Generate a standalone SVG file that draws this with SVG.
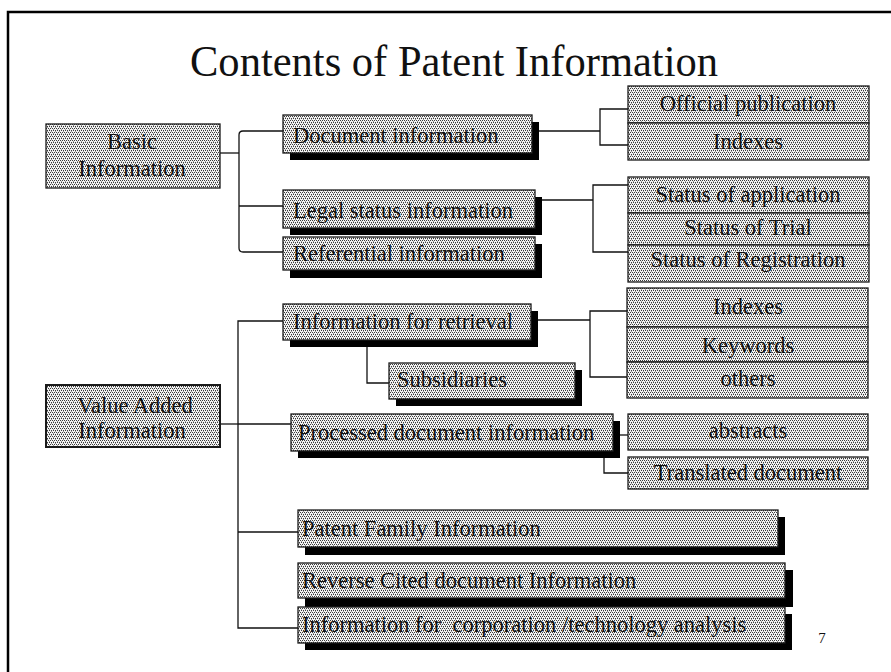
<svg xmlns="http://www.w3.org/2000/svg" width="891" height="672" viewBox="0 0 891 672">
<defs>
<pattern id="stip" width="4" height="4" patternUnits="userSpaceOnUse">
<rect width="4" height="4" fill="#f4f4f4"/>
<rect x="0" y="0" width="1" height="1" fill="#3a3a3a"/>
<rect x="2" y="0" width="1" height="1" fill="#3a3a3a"/>
<rect x="1" y="2" width="1" height="1" fill="#3a3a3a"/>
<rect x="3" y="2" width="1" height="1" fill="#3a3a3a"/>
<rect x="1" y="1" width="1" height="1" fill="#9a9a9a"/>
<rect x="3" y="3" width="1" height="1" fill="#9a9a9a"/>
</pattern>
</defs>
<style>
.box{fill:url(#stip);stroke:#1a1a1a;stroke-width:1.3}
.sh{fill:#000}
.t{font-family:"Liberation Serif","Times New Roman",serif;font-size:22.5px;fill:#111}
.c{text-anchor:middle}
.conn{stroke:#111;stroke-width:1.3;fill:none}
.frame{stroke:#000;stroke-width:2.5;fill:none}
</style>
<rect width="891" height="672" fill="#fff"/>
<path class="frame" d="M8,672 V12 H891"/>
<text id="title" x="190" y="76" font-family="Liberation Serif, Times New Roman, serif" font-size="45" fill="#111" textLength="528" lengthAdjust="spacingAndGlyphs">Contents of Patent Information</text>
<g id="connectors">
<path class="conn" d="M220,153 H239"/>
<path class="conn" d="M283,131 H243 Q239,131 239,135 V248 Q239,252 243,252 H283"/>
<path class="conn" d="M239,206 H283"/>
<path class="conn" d="M538,131 H600"/>
<path class="conn" d="M628,109 H600 V145 H628"/>
<path class="conn" d="M542,200 H593"/>
<path class="conn" d="M628,185 H593 V252 H628"/>
<path class="conn" d="M220,424 H238"/>
<path class="conn" d="M283,321 H238 V628 H298"/>
<path class="conn" d="M238,424 H291"/>
<path class="conn" d="M238,532 H298"/>
<path class="conn" d="M538,320 H590"/>
<path class="conn" d="M627,311 H590 V377 H627"/>
<path class="conn" d="M367,347 V383 H389"/>
<path class="conn" d="M620,435 H628"/>
<path class="conn" d="M604,458 V473 H628"/>
</g>
<g id="basic">
<rect class="box" x="46" y="124" width="174" height="64"/>
<text class="t c" x="132" y="149">Basic</text>
<text class="t c" x="132" y="176">Information</text>
</g>
<g id="value-added">
<rect class="box" x="46" y="385" width="174" height="62" style="stroke-width:2"/>
<text class="t c" x="135" y="413">Value Added</text>
<text class="t c" x="132" y="438">Information</text>
</g>
<g id="doc-info">
<rect class="sh" x="290" y="122" width="249" height="38"/>
<rect class="box" x="283" y="115" width="249" height="38"/>
<text class="t" x="293" y="143">Document information</text>
</g>
<g id="legal-status">
<rect class="sh" x="290" y="197" width="252" height="38"/>
<rect class="box" x="283" y="190" width="252" height="38"/>
<text class="t" x="293" y="218">Legal status information</text>
</g>
<g id="referential">
<rect class="sh" x="290" y="244" width="252" height="34"/>
<rect class="box" x="283" y="237" width="252" height="33"/>
<text class="t" x="293" y="261">Referential information</text>
</g>
<g id="official-pub">
<rect class="box" x="628" y="86" width="241" height="37"/>
<text class="t c" x="748" y="111">Official publication</text>
</g>
<g id="indexes-1">
<rect class="box" x="628" y="123" width="241" height="37"/>
<text class="t c" x="748" y="149">Indexes</text>
</g>
<g id="status-app">
<rect class="box" x="628" y="177" width="241" height="36"/>
<text class="t c" x="748" y="202">Status of application</text>
</g>
<g id="status-trial">
<rect class="box" x="628" y="213" width="241" height="32"/>
<text class="t c" x="748" y="235">Status of Trial</text>
</g>
<g id="status-reg">
<rect class="box" x="628" y="245" width="241" height="37"/>
<text class="t c" x="748" y="267">Status of Registration</text>
</g>
<g id="info-retrieval">
<rect class="sh" x="290" y="311" width="248" height="36"/>
<rect class="box" x="283" y="304" width="248" height="36"/>
<text class="t" x="293" y="329">Information for retrieval</text>
</g>
<g id="subsidiaries">
<rect class="sh" x="396" y="370" width="186" height="36"/>
<rect class="box" x="389" y="363" width="186" height="36"/>
<text class="t" x="397" y="387">Subsidiaries</text>
</g>
<g id="indexes-2">
<rect class="box" x="627" y="288" width="241" height="39"/>
<text class="t c" x="748" y="314">Indexes</text>
</g>
<g id="keywords">
<rect class="box" x="627" y="327" width="241" height="35"/>
<text class="t c" x="748" y="353">Keywords</text>
</g>
<g id="others">
<rect class="box" x="627" y="362" width="241" height="36"/>
<text class="t c" x="748" y="386">others</text>
</g>
<g id="processed">
<rect class="sh" x="298" y="421" width="322" height="37"/>
<rect class="box" x="291" y="414" width="322" height="37"/>
<text class="t" x="298" y="440">Processed document information</text>
</g>
<g id="abstracts">
<rect class="box" x="628" y="414" width="240" height="36"/>
<text class="t c" x="748" y="438">abstracts</text>
</g>
<g id="translated">
<rect class="box" x="628" y="457" width="240" height="32"/>
<text class="t c" x="748" y="480">Translated document</text>
</g>
<g id="patent-family">
<rect class="sh" x="305" y="517" width="480" height="38"/>
<rect class="box" x="298" y="510" width="480" height="37"/>
<text class="t" x="302" y="536">Patent Family Information</text>
</g>
<g id="reverse-cited">
<rect class="sh" x="305" y="570" width="488" height="37"/>
<rect class="box" x="298" y="563" width="487" height="35"/>
<text class="t" x="302" y="588">Reverse Cited document Information</text>
</g>
<g id="corp-tech">
<rect class="sh" x="305" y="614" width="487" height="36"/>
<rect class="box" x="298" y="607" width="487" height="36"/>
<text class="t" x="302" y="632" xml:space="preserve">Information for  corporation /technology analysis</text>
</g>
<text id="page-num" x="822" y="643" font-family="Liberation Serif, Times New Roman, serif" font-size="15" fill="#111" text-anchor="middle">7</text>
</svg>
